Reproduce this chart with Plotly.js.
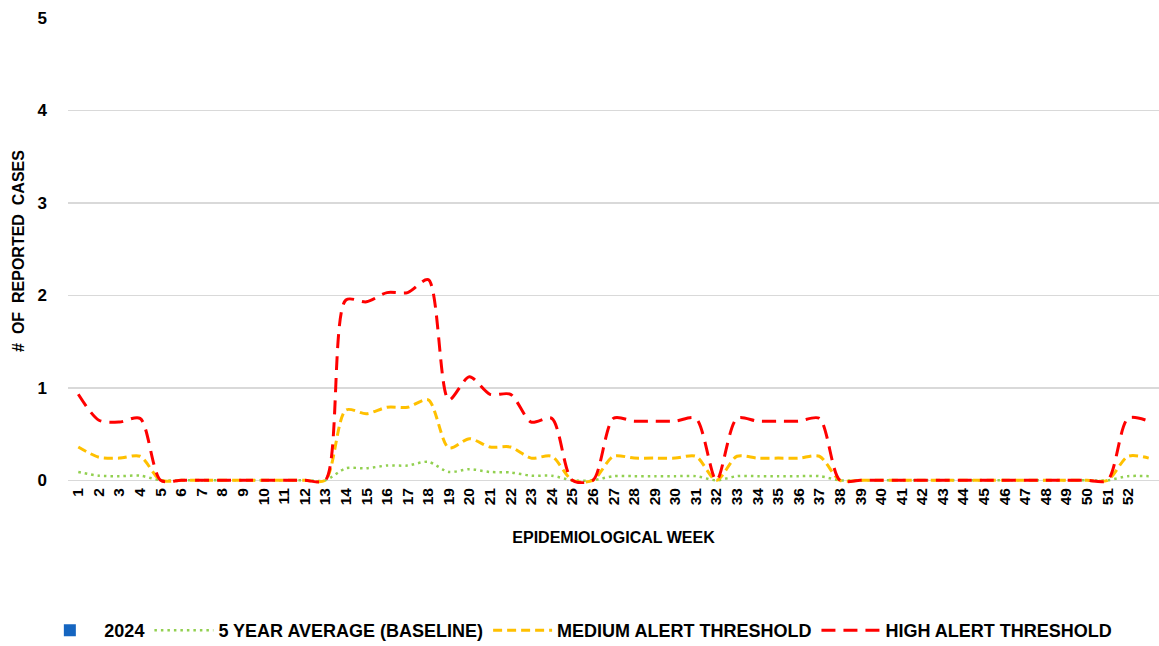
<!DOCTYPE html>
<html>
<head>
<meta charset="utf-8">
<script src="https://cdn.plot.ly/plotly-3.0.1.min.js"></script>
<style>
  html, body { margin: 0; padding: 0; background: #fff; }
  #chart { width: 1159px; height: 646px; }
</style>
</head>
<body>
<div id="chart"></div>
<script>
// weeks 1..53 (axis only labels 1..52)
const weeks = [];
for (let w = 1; w <= 53; w++) weeks.push(w);
const tickLabels = weeks.slice(0, 52).map(String);

const cases2024 = [0,0,0,0,0,0,0,0,0,0,0,0,0,0,0,0,0,0,0,0,0,0,0,0,0,0,0,0,0,0,0,0,0,0,0,0,0,0,0,0,0,0,0,0,0,0,0,0,0,0,0,0,0];

const baseline = [0.09,0.05,0.045,0.05,0,0,0,0,0,0,0,0,0,0.13,0.13,0.16,0.16,0.2,0.09,0.12,0.09,0.085,0.05,0.05,0,0,
  0.045,0.045,0.045,0.045,0.045,0,0.045,0.045,0.045,0.045,0.045,0,0,0,0,0,0,0,0,0,0,0,0,0,0,0.045,0.045];

const medium = [0.36,0.25,0.24,0.26,0,0,0,0,0,0,0,0,0,0.76,0.72,0.79,0.79,0.87,0.35,0.45,0.36,0.36,0.24,0.26,0,0,
  0.26,0.24,0.24,0.24,0.26,0,0.26,0.24,0.24,0.24,0.26,0,0,0,0,0,0,0,0,0,0,0,0,0,0,0.26,0.24];

const high = [0.93,0.65,0.63,0.67,0,0,0,0,0,0,0,0,0,1.95,1.93,2.03,2.03,2.17,0.87,1.12,0.93,0.93,0.63,0.67,0,0,
  0.67,0.64,0.64,0.64,0.67,0,0.67,0.64,0.64,0.64,0.67,0,0,0,0,0,0,0,0,0,0,0,0,0,0,0.67,0.64];

const fontFam = 'Liberation Sans, Arial, sans-serif';

const traces = [
  {
    x: weeks, y: cases2024, type: 'bar', name: '2024',
    marker: { color: '#1565C0' }
  },
  {
    x: weeks, y: baseline, type: 'scatter', mode: 'lines', name: '5 YEAR AVERAGE (BASELINE)',
    line: { color: '#92D050', width: 2.5, dash: '2.5px,4px', shape: 'spline', smoothing: 0.8 }
  },
  {
    x: weeks, y: medium, type: 'scatter', mode: 'lines', name: 'MEDIUM ALERT THRESHOLD',
    line: { color: '#FFC000', width: 3, dash: '9px,5px', shape: 'spline', smoothing: 0.8 }
  },
  {
    x: weeks, y: high, type: 'scatter', mode: 'lines', name: 'HIGH ALERT THRESHOLD',
    line: { color: '#FF0000', width: 3, dash: '14px,8px', shape: 'spline', smoothing: 0.8 }
  }
];

const layout = {
  width: 1159, height: 646,
  margin: { l: 68, r: 0, t: 18, b: 162 },
  paper_bgcolor: '#fff', plot_bgcolor: '#fff',
  font: { family: fontFam, color: '#000' },
  showlegend: true,
  legend: {
    orientation: 'h', xref: 'container', yref: 'container',
    x: 0.0305, xanchor: 'left', y: 0.024, yanchor: 'middle',
    font: { size: 18, weight: 'bold', family: fontFam }, itemwidth: 59, traceorder: 'normal'
  },
  xaxis: {
    type: 'linear', range: [0.5, 53.5],
    tickvals: weeks.slice(0, 52), ticktext: tickLabels, tickangle: -90,
    tickfont: { size: 15.5, weight: 'bold' },
    showgrid: false, zeroline: false, showline: false, ticks: '',
    title: { text: 'EPIDEMIOLOGICAL WEEK', font: { size: 16, weight: 'bold' }, standoff: 27 }
  },
  yaxis: {
    range: [-0.04, 5], tickvals: [0, 1, 2, 3, 4, 5],
    tickfont: { size: 17, weight: 'bold' },
    showgrid: true, gridcolor: '#D9D9D9', gridwidth: 1.5,
    zeroline: false, showline: false, ticks: '', ticklabelstandoff: 20,
    title: { text: '#  OF  REPORTED  CASES', font: { size: 16, weight: 'bold' }, standoff: 8 }
  }
};

Plotly.newPlot('chart', traces, layout, { displayModeBar: false, staticPlot: true });
</script>
</body>
</html>
